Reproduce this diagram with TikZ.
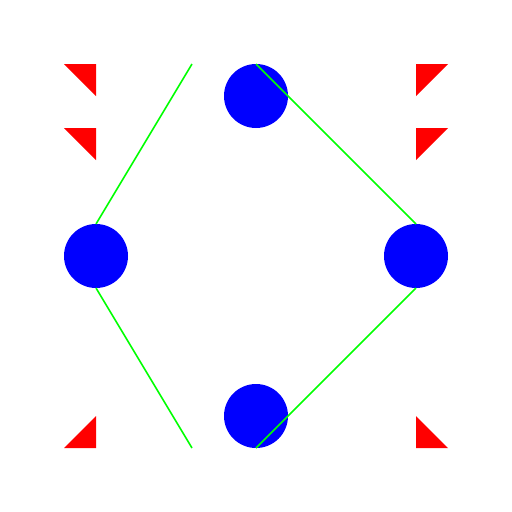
\documentclass[tikz,border=0pt]{standalone}
\begin{document}
\begin{tikzpicture}[x=1pt,y=-1pt,
  dot/.style={circle,fill=blue,minimum size=64pt,inner sep=0pt,outer sep=0pt},
  link/.style={draw={rgb,255:red,0;green,255;blue,0},line width=1.6pt},
  tri/.style={fill=red}]
\useasboundingbox (0,0) rectangle (512,512);
\node[dot] (t) at (256,96) {};
\node[dot] (l) at (96,256) {};
\node[dot] (r) at (416,256) {};
\node[dot] (b) at (256,416) {};
\coordinate (ul) at (192,64);
\coordinate (ll) at (192,448);
\draw[link] (ul) -- (l.north);
\draw[link] (l.south) -- (ll);
\draw[link] (t.north) -- (r.north);
\draw[link] (r.south) -- (b.south);
\fill[tri] (64,64) -- (96,64) -- (96,96) -- cycle;
\fill[tri] (64,128) -- (96,128) -- (96,160) -- cycle;
\fill[tri] (416,64) -- (448,64) -- (416,96) -- cycle;
\fill[tri] (416,128) -- (448,128) -- (416,160) -- cycle;
\fill[tri] (64,448) -- (96,448) -- (96,416) -- cycle;
\fill[tri] (416,416) -- (416,448) -- (448,448) -- cycle;
\end{tikzpicture}
\end{document}
